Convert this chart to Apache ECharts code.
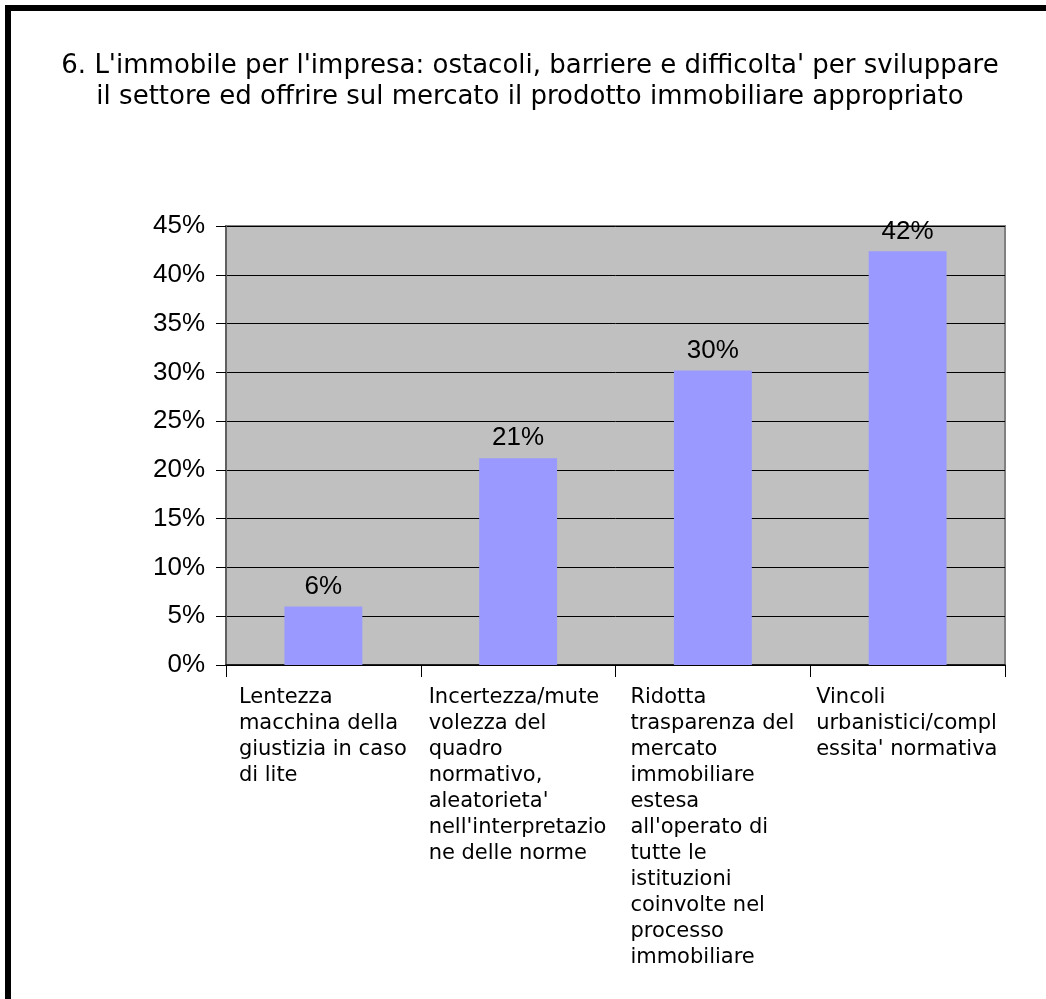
<!DOCTYPE html>
<html>
<head>
<meta charset="utf-8">
<script src="https://cdn.jsdelivr.net/npm/echarts@6/dist/echarts.min.js"></script>
<style>
html,body{margin:0;padding:0;background:#fff;}
#c{width:1046px;height:999px;}
</style>
</head>
<body>
<div id="c"></div>
<script>
const titleText = "6. L'immobile per l'impresa: ostacoli, barriere e difficolta' per sviluppare\nil settore ed offrire sul mercato il prodotto immobiliare appropriato";
const categories = [
  "Lentezza\nmacchina della\ngiustizia in caso\ndi lite",
  "Incertezza/mute\nvolezza del\nquadro\nnormativo,\naleatorieta'\nnell'interpretazio\nne delle norme",
  "Ridotta\ntrasparenza del\nmercato\nimmobiliare\nestesa\nall'operato di\ntutte le\nistituzioni\ncoinvolte nel\nprocesso\nimmobiliare",
  "Vincoli\nurbanistici/compl\nessita' normativa"
];
const values = [6.0, 21.2, 30.2, 42.4];
const yMin = 0, yMax = 45, yStep = 5;

const xFont = '21px "DejaVu Sans"';
const ctx = document.createElement('canvas').getContext('2d');
ctx.font = xFont;
const rich = {};
categories.forEach((c, i) => {
  const w = Math.max(...c.split('\n').map(l => ctx.measureText(l).width));
  rich['c' + i] = {width: Math.ceil(w) + 1, align: 'left', fontFamily: 'DejaVu Sans', fontSize: 21, lineHeight: 26, color: '#000'};
});

const chart = echarts.init(document.getElementById('c'), null, {renderer: 'canvas'});
chart.setOption({
  animation: false,
  backgroundColor: '#ffffff',
  title: {
    text: titleText,
    left: 525, top: 46, textAlign: 'center',
    textStyle: {fontFamily: 'DejaVu Sans', fontSize: 26, fontWeight: 'normal', color: '#000', lineHeight: 31}
  },
  graphic: [{
    type: 'rect', z: 100,
    shape: {x: 8, y: 8, width: 1200, height: 1200},
    style: {fill: 'none', stroke: '#000', lineWidth: 6}
  }],
  grid: {left: 226, right: 41, top: 226, bottom: 334, show: true, backgroundColor: '#C0C0C0', borderColor: '#808080', borderWidth: 2},
  xAxis: {
    type: 'category', data: categories, boundaryGap: true,
    axisLine: {show: true, lineStyle: {color: '#000', width: 1.5}},
    axisTick: {show: true, alignWithLabel: false, length: 12, lineStyle: {color: '#000', width: 1}},
    axisLabel: {
      interval: 0, margin: 20, align: 'center', verticalAlign: 'top',
      formatter: (v, idx) => v.split('\n').map(l => '{c' + idx + '|' + l + '}').join('\n'),
      rich: rich
    }
  },
  yAxis: {
    type: 'value', min: yMin, max: yMax, interval: yStep,
    axisLine: {show: true, lineStyle: {color: '#606060', width: 2}},
    axisTick: {show: true, length: 10, lineStyle: {color: '#000', width: 1}},
    axisLabel: {formatter: '{value}%', margin: 21, fontFamily: 'Liberation Sans', fontSize: 26, color: '#000'},
    splitLine: {show: true, lineStyle: {color: '#000', width: 1}}
  },
  series: [{
    type: 'bar', data: values, barWidth: '40%',
    itemStyle: {color: '#9999FF'},
    label: {show: true, position: 'top', distance: 7, formatter: p => Math.round(p.value) + '%', fontFamily: 'Liberation Sans', fontSize: 26, color: '#000'}
  }]
});
</script>
</body>
</html>
